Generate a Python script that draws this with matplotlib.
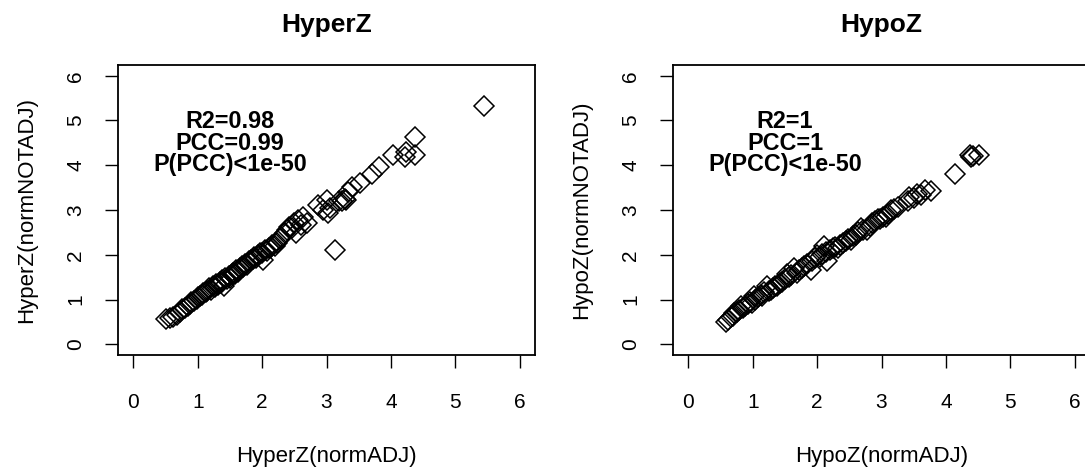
import matplotlib
matplotlib.use("Agg")
import matplotlib.pyplot as plt

plt.rcParams['font.family'] = ['Liberation Sans', 'DejaVu Sans']

# HyperZ: normADJ vs normNOTADJ
hyper_x = [0.50, 0.57, 0.62, 0.67, 0.72, 0.76, 0.80, 0.84, 0.88, 0.90, 0.94, 0.98,
           1.00, 1.03, 1.06, 1.08, 1.12, 1.15, 1.18, 1.20, 1.23, 1.26, 1.28, 1.31,
           1.34, 1.36, 1.38, 1.40, 1.42, 1.45, 1.48, 1.50, 1.53, 1.55, 1.58, 1.60,
           1.63, 1.66, 1.68, 1.71, 1.74, 1.77, 1.80, 1.83, 1.86, 1.88, 1.91, 1.94,
           1.97, 2.00, 2.01, 2.04, 2.07, 2.10, 2.13, 2.16, 2.20, 2.23, 2.27, 2.30,
           2.35, 2.38, 2.42, 2.46, 2.50, 2.53, 2.56, 2.60, 2.63, 2.69, 2.87, 2.95,
           3.00, 3.02, 3.05, 3.13, 3.20, 3.24, 3.28, 3.31, 3.34, 3.39, 3.52, 3.70,
           3.82, 4.03, 4.22, 4.23, 4.38, 4.38, 5.45]
hyper_y = [0.56, 0.58, 0.62, 0.66, 0.73, 0.78, 0.82, 0.86, 0.90, 0.95, 0.96, 1.02,
           1.05, 1.08, 1.10, 1.15, 1.16, 1.20, 1.25, 1.22, 1.30, 1.28, 1.35, 1.33,
           1.40, 1.37, 1.44, 1.30, 1.47, 1.45, 1.52, 1.49, 1.56, 1.60, 1.58, 1.65,
           1.62, 1.70, 1.74, 1.72, 1.80, 1.78, 1.85, 1.88, 1.90, 1.95, 1.93, 1.99,
           2.03, 2.05, 1.89, 2.10, 2.08, 2.15, 2.18, 2.22, 2.20, 2.27, 2.35, 2.40,
           2.48, 2.55, 2.63, 2.60, 2.70, 2.48, 2.78, 2.66, 2.85, 2.70, 3.11, 3.00,
           3.22, 2.93, 3.04, 2.11, 3.19, 3.19, 3.25, 3.22, 3.41, 3.52, 3.61, 3.80,
           3.96, 4.24, 4.18, 4.30, 4.63, 4.24, 5.32]

# HypoZ: normADJ vs normNOTADJ
hypo_x = [0.58, 0.62, 0.66, 0.70, 0.71, 0.75, 0.79, 0.81, 0.85, 0.88, 0.92, 0.95,
          0.98, 1.02, 1.04, 1.08, 1.12, 1.15, 1.18, 1.22, 1.25, 1.28, 1.32, 1.35,
          1.38, 1.42, 1.46, 1.50, 1.53, 1.57, 1.60, 1.64, 1.68, 1.72, 1.76, 1.80,
          1.85, 1.90, 1.92, 1.96, 2.00, 2.04, 2.08, 2.11, 2.14, 2.16, 2.20, 2.25,
          2.28, 2.32, 2.36, 2.40, 2.45, 2.48, 2.52, 2.55, 2.60, 2.64, 2.68, 2.72,
          2.78, 2.82, 2.86, 2.90, 2.94, 2.98, 3.03, 3.07, 3.10, 3.15, 3.20, 3.25,
          3.41, 3.43, 3.50, 3.55, 3.62, 3.67, 3.77, 4.14, 4.37, 4.39, 4.42, 4.52]
hypo_y = [0.50, 0.55, 0.60, 0.64, 0.70, 0.72, 0.76, 0.85, 0.80, 0.86, 0.90, 0.95,
          0.93, 1.07, 1.00, 1.05, 1.10, 1.08, 1.16, 1.30, 1.18, 1.22, 1.26, 1.30,
          1.30, 1.36, 1.40, 1.45, 1.56, 1.50, 1.55, 1.70, 1.60, 1.66, 1.70, 1.74,
          1.80, 1.67, 1.86, 1.92, 2.00, 1.95, 2.02, 2.19, 2.06, 1.85, 2.10, 2.14,
          2.18, 2.15, 2.22, 2.26, 2.30, 2.36, 2.33, 2.42, 2.45, 2.50, 2.59, 2.55,
          2.56, 2.65, 2.70, 2.75, 2.81, 2.80, 2.84, 2.85, 2.92, 3.00, 3.02, 3.07,
          3.19, 3.30, 3.26, 3.35, 3.33, 3.44, 3.43, 3.81, 4.24, 4.19, 4.21, 4.22]

panels = [
    ("HyperZ", hyper_x, hyper_y, ["R2=0.98", "PCC=0.99", "P(PCC)<1e-50"]),
    ("HypoZ", hypo_x, hypo_y, ["R2=1", "PCC=1", "P(PCC)<1e-50"]),
]

fig = plt.figure(figsize=(10.85, 4.69), dpi=100)
lefts = [118 / 1085, 673 / 1085]

for (nome, xs, ys, stats), left in zip(panels, lefts):
    ax = fig.add_axes([left, 114 / 469, 417 / 1085, 290 / 469])
    ax.plot(xs, ys, linestyle='none', marker='D', markersize=10,
            markerfacecolor='none', markeredgecolor='black', markeredgewidth=1.1)
    ax.set_xlim(-0.24, 6.24)
    ax.set_ylim(-0.24, 6.24)
    ax.set_xticks(range(7))
    ax.set_yticks(range(7))
    ax.tick_params(direction='out', length=9.5, width=1, labelsize=15)
    ax.tick_params(axis='x', pad=17.5)
    ax.tick_params(axis='y', labelrotation=90, pad=14)
    for lab in ax.get_yticklabels():
        lab.set_va('center')
    for s in ax.spines.values():
        s.set_linewidth(1.3)
    ax.set_title(nome, fontsize=19, fontweight='bold', pad=23.5)
    ax.set_xlabel(nome + "(normADJ)", fontsize=16, labelpad=25)
    ax.set_ylabel(nome + "(normNOTADJ)", fontsize=16, labelpad=21)
    # tres linhas num so texto, espacamento apertado como no original
    ax.text(1.5, 4.49, "\n".join(stats), ha='center', va='center',
            multialignment='center', linespacing=0.92,
            fontsize=16.8, fontweight='bold')

fig.savefig("out.png", dpi=100)
